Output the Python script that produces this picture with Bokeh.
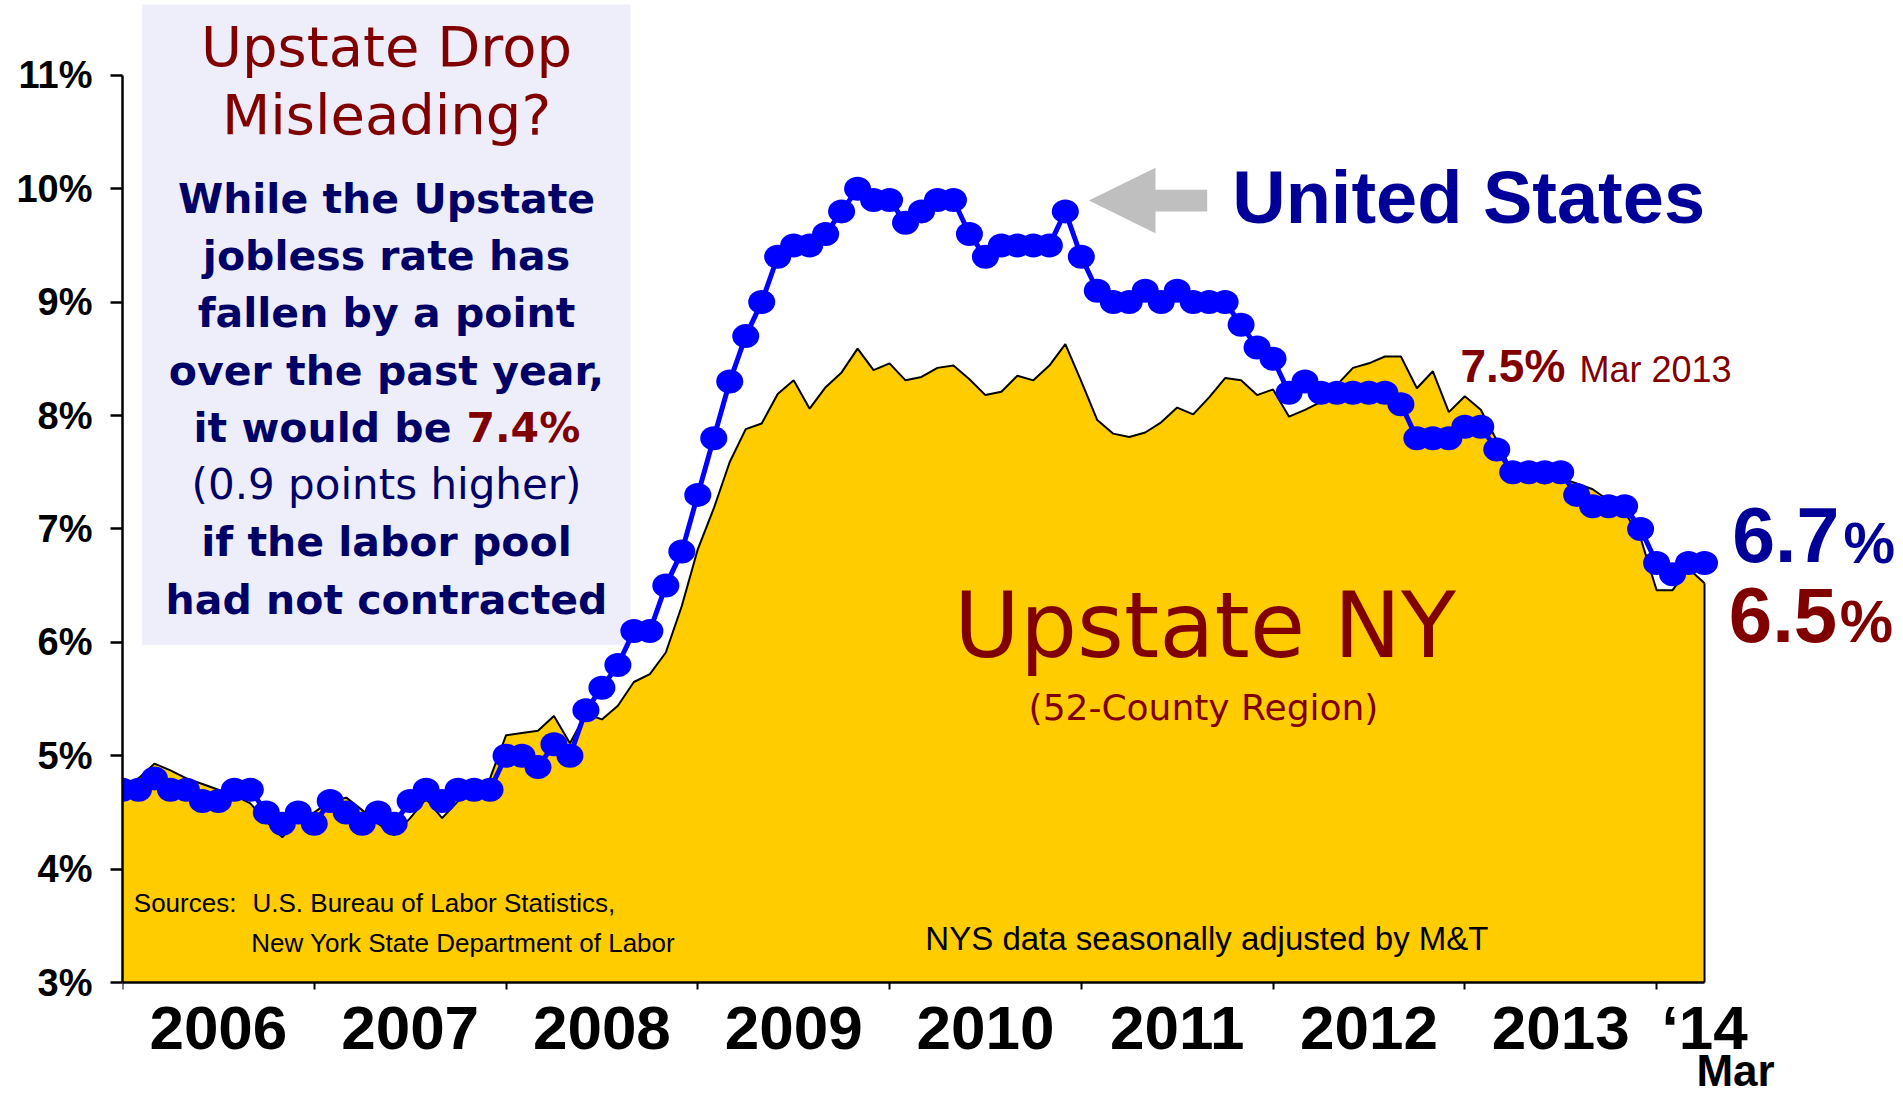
from bokeh.plotting import figure
from bokeh.models import Label, FixedTicker, Range1d, BoxAnnotation
from bokeh.embed import file_html
from bokeh.resources import INLINE

# ---------------- data (Dec 2005 .. Mar 2014, monthly) ----------------
us_rate = [
    4.7,
    4.7, 4.8, 4.7, 4.7, 4.6, 4.6, 4.7, 4.7, 4.5, 4.4, 4.5, 4.4,   # 2006
    4.6, 4.5, 4.4, 4.5, 4.4, 4.6, 4.7, 4.6, 4.7, 4.7, 4.7, 5.0,   # 2007
    5.0, 4.9, 5.1, 5.0, 5.4, 5.6, 5.8, 6.1, 6.1, 6.5, 6.8, 7.3,   # 2008
    7.8, 8.3, 8.7, 9.0, 9.4, 9.5, 9.5, 9.6, 9.8, 10.0, 9.9, 9.9,  # 2009
    9.7, 9.8, 9.9, 9.9, 9.6, 9.4, 9.5, 9.5, 9.5, 9.5, 9.8, 9.4,   # 2010
    9.1, 9.0, 9.0, 9.1, 9.0, 9.1, 9.0, 9.0, 9.0, 8.8, 8.6, 8.5,   # 2011
    8.2, 8.3, 8.2, 8.2, 8.2, 8.2, 8.2, 8.1, 7.8, 7.8, 7.8, 7.9,   # 2012
    7.9, 7.7, 7.5, 7.5, 7.5, 7.5, 7.3, 7.2, 7.2, 7.2, 7.0, 6.7,   # 2013
    6.6, 6.7, 6.7,                                                # 2014
]

upstate_rate = [
    4.72,
    4.80, 4.93, 4.87, 4.80, 4.75, 4.70, 4.65, 4.58, 4.42, 4.28, 4.45, 4.50,
    4.60, 4.63, 4.52, 4.40, 4.30, 4.45, 4.62, 4.45, 4.60, 4.65, 4.80, 5.18,
    5.20, 5.22, 5.35, 5.11, 5.37, 5.32, 5.44, 5.65, 5.72, 5.91, 6.32, 6.82,
    7.18, 7.59, 7.88, 7.93, 8.19, 8.31, 8.06, 8.25, 8.38, 8.59, 8.40, 8.46,
    8.31, 8.34, 8.42, 8.44, 8.32, 8.18, 8.21, 8.35, 8.31, 8.44, 8.63, 8.30,
    7.96, 7.84, 7.81, 7.85, 7.94, 8.07, 8.01, 8.16, 8.33, 8.31, 8.18, 8.23,
    7.99, 8.05, 8.12, 8.27, 8.42, 8.46, 8.52, 8.52, 8.24, 8.39, 8.03, 8.17,
    8.05, 7.78, 7.50, 7.45, 7.40, 7.45, 7.40, 7.35, 7.25, 7.15, 6.92, 6.46,
    6.46, 6.65, 6.52,
]

year_labels = ["2006", "2007", "2008", "2009", "2010", "2011", "2012", "2013", "\u201814"]
y_ticks = [3, 4, 5, 6, 7, 8, 9, 10, 11]

x = list(range(len(us_rate)))
x_last = x[-1]

# ---------------- geometry (canvas pixels) ----------------
W, H = 1903, 1099
FL = 122.0          # frame left (y axis)
Y3 = 982.0          # pixel row of the 3 % baseline (x axis)
PXY = 113.4         # px per 1 %
PXX = 15.98         # px per month


def dx(px):
    return (px - FL) / PXX


def dy(py):
    return 3 + (Y3 - py) / PXY


p = figure(width=W, height=H,
           x_range=Range1d(0, dx(W)), y_range=Range1d(dy(H), dy(0)),
           output_backend="svg", toolbar_location=None,
           min_border_left=int(FL), min_border_top=0,
           min_border_right=0, min_border_bottom=0)
p.background_fill_color = "white"
p.border_fill_color = "white"
p.outline_line_color = None
p.xgrid.visible = False
p.ygrid.visible = False

# ---------------- axes ----------------
xa = p.xaxis[0]
xa.fixed_location = 3
mids = [12 * i + 6 for i in range(len(year_labels) - 1)] + [x_last]
xa.ticker = FixedTicker(ticks=mids, minor_ticks=[12 * i for i in range(len(year_labels))])
xa.major_label_overrides = {m: lab for m, lab in zip(mids, year_labels)}
xa.bounds = (0, x_last)
xa.major_tick_out = 0
xa.major_tick_in = 0
xa.minor_tick_out = 7
xa.minor_tick_in = 0
xa.minor_tick_line_width = 2
xa.minor_tick_line_color = "black"
xa.axis_line_width = 2.5
xa.axis_line_color = "black"
xa.major_label_text_font = "Liberation Sans"
xa.major_label_text_font_style = "bold"
xa.major_label_text_font_size = "62px"
xa.major_label_text_color = "black"
xa.major_label_standoff = 3

ya = p.yaxis[0]
ya.ticker = FixedTicker(ticks=y_ticks, minor_ticks=[])
ya.major_label_overrides = {t: f"{t}%" for t in y_ticks}
ya.bounds = (3, 11)
ya.major_tick_out = 12
ya.major_tick_in = 0
ya.minor_tick_out = 0
ya.minor_tick_in = 0
ya.major_tick_line_width = 2.5
ya.major_tick_line_color = "black"
ya.axis_line_width = 2.5
ya.axis_line_color = "black"
ya.major_label_text_font = "Liberation Sans"
ya.major_label_text_font_style = "bold"
ya.major_label_text_font_size = "38px"
ya.major_label_text_color = "black"
ya.major_label_standoff = 18

# ---------------- callout box background ----------------
p.add_layout(BoxAnnotation(left=dx(141.7), right=dx(630), bottom=dy(644.5), top=dy(4),
                           fill_color="#EEEEFB", fill_alpha=1.0, line_color=None,
                           level="underlay"))

# ---------------- series ----------------
p.varea(x=x, y1=3, y2=upstate_rate, fill_color="#FFCC00")
p.line(x, upstate_rate, line_color="black", line_width=2)
p.segment(x0=[x_last], y0=[upstate_rate[-1]], x1=[x_last], y1=[3],
          line_color="black", line_width=2)

p.line(x, us_rate, line_color="#0000FF", line_width=5)
p.ellipse(x=x, y=us_rate, width=27, height=24, width_units="screen", height_units="screen",
          fill_color="#0000FF", line_color=None)

# grey arrow pointing at the US line
arrow_px = [(1088.3, 200), (1155, 167.3), (1155, 189.3), (1206.7, 189.3),
            (1206.7, 211), (1155, 211), (1155, 232.7)]
p.patch([dx(a) for a, b in arrow_px], [dy(b) for a, b in arrow_px],
        fill_color="#BFBFBF", line_color=None)


# ---------------- texts ----------------
BASE_FIX = 0.37   # renderer puts the alphabetic baseline ~0.37em below y


def lab(text, px, baseline, size, color, font="DejaVu Sans", style="normal", align="center"):
    p.add_layout(Label(x=dx(px), y=dy(baseline - BASE_FIX * size), text=text, text_font=font,
                       text_font_size=f"{size}px", text_font_style=style,
                       text_color=color, text_align=align, text_baseline="alphabetic"))


RED = "#800000"
NAVY = "#000066"
BLUE = "#000099"
BOXC = 386

lab("Upstate Drop", BOXC, 66.7, 56, RED)
lab("Misleading?", BOXC, 135, 56, RED)
lab("While the Upstate", BOXC, 213.3, 41, NAVY, style="bold")
lab("jobless rate has", BOXC, 270.6, 41, NAVY, style="bold")
lab("fallen by a point", BOXC, 327.9, 41, NAVY, style="bold")
lab("over the past year,", BOXC, 385.2, 41, NAVY, style="bold")
lab("it would be", 193, 442.5, 41, NAVY, style="bold", align="left")
lab("7.4%", 466, 442.5, 41, RED, style="bold", align="left")
lab("(0.9 points higher)", BOXC, 499.8, 42, NAVY)
lab("if the labor pool", BOXC, 557.1, 41, NAVY, style="bold")
lab("had not contracted", BOXC, 614.4, 41, NAVY, style="bold")

lab("United States", 1231.7, 224, 74, BLUE, font="Liberation Sans", style="bold", align="left")
lab("Upstate NY", 1204.5, 658, 90, RED)
lab("(52-County Region)", 1203, 720, 36, RED)

lab("7.5%", 1460, 382.7, 46, RED, font="Liberation Sans", style="bold", align="left")
lab("Mar 2013", 1579, 382.7, 36, RED, font="Liberation Sans", align="left")

lab("6.7", 1731.7, 563.3, 77, BLUE, font="Liberation Sans", style="bold", align="left")
lab("%", 1843, 563.3, 58, BLUE, font="Liberation Sans", style="bold", align="left")
lab("6.5", 1728.3, 643.3, 78, RED, font="Liberation Sans", style="bold", align="left")
lab("%", 1839.3, 643.3, 60, RED, font="Liberation Sans", style="bold", align="left")

lab("Sources:", 133.3, 911.7, 26, "black", font="Liberation Sans", align="left")
lab("U.S. Bureau of Labor Statistics,", 252, 911.7, 26, "black", font="Liberation Sans", align="left")
lab("New York State Department of Labor", 250.7, 951.7, 26, "black", font="Liberation Sans", align="left")
lab("NYS data seasonally adjusted by M&T", 1488, 950, 33, "black", font="Liberation Sans", align="right")

lab("Mar", 1735, 1086, 44, "black", font="Liberation Sans", style="bold")

open("out.html", "w").write(file_html(p, INLINE))
